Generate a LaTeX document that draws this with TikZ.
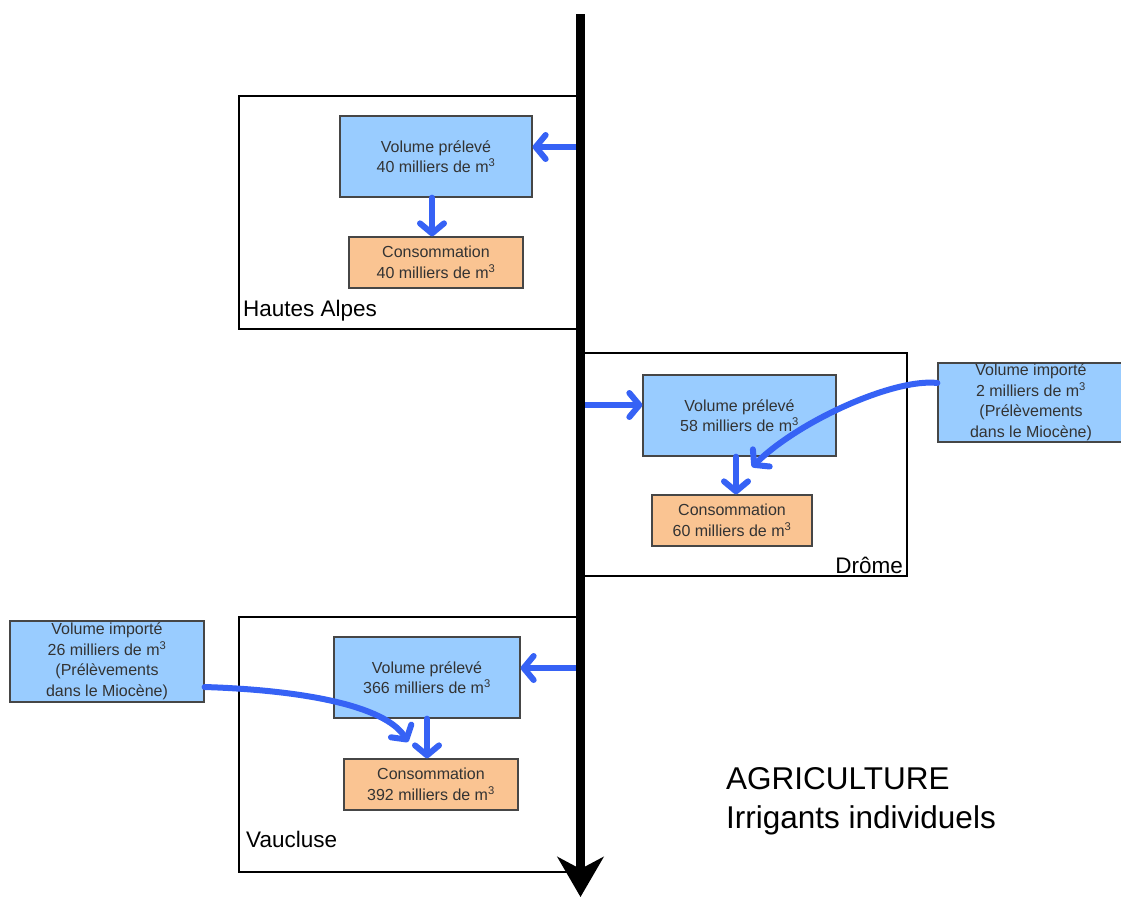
\documentclass[tikz,border=0pt]{standalone}
\usepackage{fontspec}
\setmainfont{Liberation Sans}
\usetikzlibrary{arrows.meta,calc}
\definecolor{flowblue}{RGB}{54,98,245}
\definecolor{boxblue}{RGB}{153,204,255}
\definecolor{boxorange}{RGB}{250,196,146}
\definecolor{boxedge}{RGB}{70,70,70}
\tikzset{
  small/.style={font=\fontsize{16}{20.5}\selectfont, align=center, text=black!80},
  volbox/.style={small, draw=boxedge, line width=1.3pt, fill=boxblue, inner sep=0pt},
  consbox/.style={small, draw=boxedge, line width=1.3pt, fill=boxorange, inner sep=0pt},
  region/.style={draw=black, line width=1.8pt, inner sep=0pt},
  regionlabel/.style={font=\fontsize{22.5}{26}\selectfont, inner sep=0pt},
  flow/.style={draw=flowblue, line width=6pt, line cap=round,
    -{Straight Barb[length=10pt,width=24pt,line cap=round,line join=round]}},
  river/.style={draw=black, line width=9pt,
    -{Stealth[length=40pt,width=46pt,inset=12pt]}},
}
\begin{document}
\begin{tikzpicture}[x=1pt,y=-1pt]
\useasboundingbox[fill=white] (0,0) rectangle (1121,898);

% department frames
\node[region, minimum width=339pt, minimum height=233pt] (haFrame) at (408.5,212.5) {};
\node[region, minimum width=323pt, minimum height=223pt] (drFrame) at (745.5,464.5) {};
\node[region, minimum width=339pt, minimum height=255pt] (vaFrame) at (408.5,744.5) {};

\node[regionlabel, anchor=base west] (haLabel) at (243,316) {Hautes Alpes};
\node[regionlabel, anchor=base east] (drLabel) at (903,573) {Drôme};
\node[regionlabel, anchor=base west] (vaLabel) at (246,847) {Vaucluse};

% Hautes Alpes
\node[volbox, minimum width=192pt, minimum height=81pt] (haVol) at (436,156.5)
  {Volume prélevé\\40 milliers de m\textsuperscript{3}};
\node[consbox, minimum width=174pt, minimum height=51pt] (haCons) at (436,262.5)
  {Consommation\\40 milliers de m\textsuperscript{3}};

% Drôme
\node[volbox, minimum width=193pt, minimum height=81pt] (drVol) at (739.5,415.5)
  {Volume prélevé\\58 milliers de m\textsuperscript{3}};
\node[consbox, minimum width=160pt, minimum height=51pt] (drCons) at (732,520.5)
  {Consommation\\60 milliers de m\textsuperscript{3}};
\node[volbox, minimum width=186pt, minimum height=79pt] (drImp) at (1031,402.5)
  {Volume importé\\2 milliers de m\textsuperscript{3}\\(Prélèvements\\dans le Miocène)};

% Vaucluse
\node[volbox, minimum width=186pt, minimum height=81pt] (vaVol) at (427,677.5)
  {Volume prélevé\\366 milliers de m\textsuperscript{3}};
\node[consbox, minimum width=174pt, minimum height=51pt] (vaCons) at (431,784.5)
  {Consommation\\392 milliers de m\textsuperscript{3}};
\node[volbox, minimum width=194pt, minimum height=81pt] (vaImp) at (107,661.5)
  {Volume importé\\26 milliers de m\textsuperscript{3}\\(Prélèvements\\dans le Miocène)};

% title
\node[font=\fontsize{31.5}{39}\selectfont, align=left, anchor=north west, inner sep=0pt]
  (title) at (726,767) {AGRICULTURE\\Irrigants individuels};

% river take-off points and free arrow ends
\coordinate (riverTop) at (580.5,14);
\coordinate (riverEnd) at (580.5,897);
\coordinate (haTake) at (580,147);
\coordinate (drTake) at (581,405);
\coordinate (vaTake) at (580,668);
\coordinate (drImpEnd) at (752,467);
\coordinate (vaImpEnd) at (408,742);

% flows
\draw[flow] (haTake) -- (haVol.east |- haTake);
\draw[flow] (haVol.south -| 432,0) -- (haCons.north -| 432,0);
\draw[flow] (drTake) -- (drVol.west |- drTake);
\draw[flow] (drVol.south -| 736,0) -- (drCons.north -| 736,0);
\draw[flow] ([yshift=19.5pt]drImp.west) .. controls (895,378) and (800,420) .. (drImpEnd);
\draw[flow] (vaTake) -- (vaVol.east |- vaTake);
\draw[flow] (vaVol.south -| 427,0) -- (vaCons.north -| 427,0);
\draw[flow] ([yshift=-25.5pt]vaImp.east) .. controls (300,690) and (385,705) .. (vaImpEnd);

% main river
\draw[river] (riverTop) -- (riverEnd);
\end{tikzpicture}
\end{document}
